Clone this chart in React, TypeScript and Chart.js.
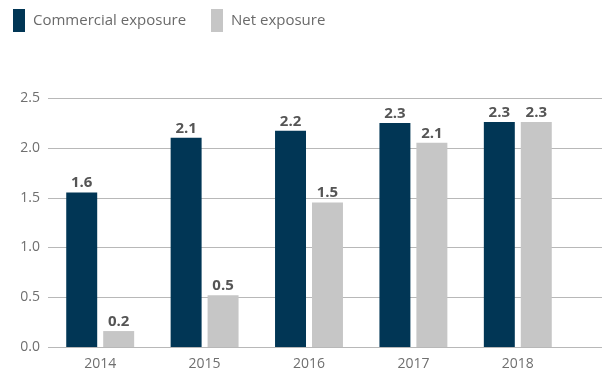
import React, { useEffect, useRef } from "react";
import { Chart, registerables } from "chart.js";

Chart.register(...registerables);

const years = ["2014", "2015", "2016", "2017", "2018"];
const commercialValues = [1.55, 2.1, 2.17, 2.25, 2.26];
const netValues = [0.16, 0.52, 1.45, 2.05, 2.26];
const commercialLabels = ["1.6", "2.1", "2.2", "2.3", "2.3"];
const netLabels = ["0.2", "0.5", "1.5", "2.1", "2.3"];
const yTicks = [0, 0.5, 1.0, 1.5, 2.0, 2.5];
const seriesNames = ["Commercial exposure", "Net exposure"];

const NAVY = "#013655";
const LIGHT = "#c6c6c6";
const FONT = "'Open Sans', 'Noto Sans', sans-serif";

export default function App() {
  const ref = useRef<HTMLCanvasElement | null>(null);

  useEffect(() => {
    if (!ref.current) return;
    const labelSets = [commercialLabels, netLabels];

    const gridPlugin = {
      id: "fullGrid",
      beforeDatasetsDraw(chart: any) {
        const { ctx, chartArea, scales, width } = chart;
        ctx.save();
        ctx.strokeStyle = "#b8b8b8";
        ctx.lineWidth = 1;
        yTicks.forEach((v) => {
          const y = Math.round(scales.y.getPixelForValue(v)) + 0.5;
          ctx.beginPath();
          ctx.moveTo(chartArea.left, y);
          ctx.lineTo(width, y);
          ctx.stroke();
        });
        ctx.restore();
      },
    };

    const valueLabelPlugin = {
      id: "valueLabels",
      afterDatasetsDraw(chart: any) {
        const { ctx } = chart;
        ctx.save();
        ctx.font = `bold 15px ${FONT}`;
        ctx.fillStyle = "#555555";
        ctx.textAlign = "center";
        ctx.textBaseline = "bottom";
        chart.data.datasets.forEach((_d: any, di: number) => {
          const meta = chart.getDatasetMeta(di);
          meta.data.forEach((bar: any, i: number) => {
            ctx.fillText(labelSets[di][i], bar.x, bar.y - 2);
          });
        });
        ctx.restore();
      },
    };

    const legendPlugin = {
      id: "customLegend",
      afterDraw(chart: any) {
        const { ctx } = chart;
        const items = [
          { x: 13, color: NAVY, text: seriesNames[0] },
          { x: 211, color: LIGHT, text: seriesNames[1] },
        ];
        ctx.save();
        ctx.font = `15px ${FONT}`;
        ctx.textBaseline = "middle";
        ctx.textAlign = "left";
        items.forEach((it) => {
          ctx.fillStyle = it.color;
          ctx.fillRect(it.x, 9, 12, 23);
          ctx.fillStyle = "#6a6a6a";
          ctx.fillText(it.text, it.x + 20, 21);
        });
        ctx.restore();
      },
    };

    const chart = new Chart(ref.current, {
      type: "bar",
      data: {
        labels: years,
        datasets: [
          {
            label: seriesNames[0],
            data: commercialValues,
            backgroundColor: NAVY,
            barPercentage: 0.838,
            categoryPercentage: 0.708,
          },
          {
            label: seriesNames[1],
            data: netValues,
            backgroundColor: LIGHT,
            barPercentage: 0.838,
            categoryPercentage: 0.708,
          },
        ],
      },
      options: {
        animation: false,
        responsive: true,
        maintainAspectRatio: false,
        layout: { padding: { top: 98, right: 32, left: 0, bottom: 0 } },
        plugins: {
          legend: { display: false },
          tooltip: { enabled: false },
        },
        scales: {
          x: {
            grid: { display: false, drawTicks: false },
            border: { display: false },
            ticks: {
              color: "#6f6f6f",
              font: { family: FONT, size: 14 },
              padding: 9,
            },
            afterFit(scale: any) {
              scale.height = 22;
            },
          },
          y: {
            min: 0,
            max: 2.5,
            afterBuildTicks(scale: any) {
              scale.ticks = yTicks.map((v) => ({ value: v }));
            },
            grid: { display: false, drawTicks: false },
            border: { display: false },
            ticks: {
              color: "#6f6f6f",
              font: { family: FONT, size: 14 },
              padding: 8,
              callback: (v: any) => Number(v).toFixed(1),
            },
            afterFit(scale: any) {
              scale.width = 48;
            },
          },
        },
      },
      plugins: [gridPlugin, valueLabelPlugin, legendPlugin],
    });
    return () => chart.destroy();
  }, []);

  return (
    <div style={{ position: "fixed", left: 0, top: 0, width: 602, height: 369, background: "#fff" }}>
      <canvas ref={ref} />
    </div>
  );
}
